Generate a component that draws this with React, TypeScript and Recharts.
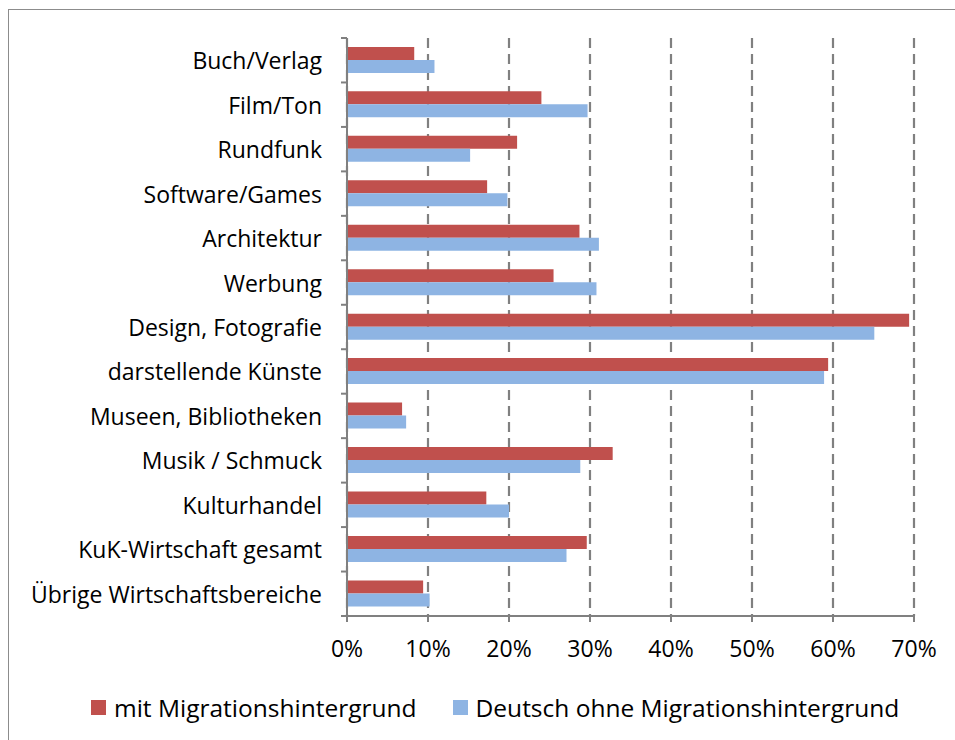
import { BarChart, Bar, XAxis, YAxis, CartesianGrid } from "recharts";

const categories = [
  "Buch/Verlag",
  "Film/Ton",
  "Rundfunk",
  "Software/Games",
  "Architektur",
  "Werbung",
  "Design, Fotografie",
  "darstellende Künste",
  "Museen, Bibliotheken",
  "Musik / Schmuck",
  "Kulturhandel",
  "KuK-Wirtschaft gesamt",
  "Übrige Wirtschaftsbereiche",
];

const mitMigration = [8.3, 24.0, 21.0, 17.3, 28.7, 25.5, 69.4, 59.4, 6.8, 32.8, 17.2, 29.6, 9.4];
const ohneMigration = [10.8, 29.7, 15.2, 19.8, 31.1, 30.8, 65.1, 58.9, 7.3, 28.8, 20.0, 27.1, 10.2];

const xTicks = [0, 10, 20, 30, 40, 50, 60, 70];

const seriesNames = ["mit Migrationshintergrund", "Deutsch ohne Migrationshintergrund"];
const RED = "#C0504D";
const BLUE = "#8EB4E3";
const GRAY = "#808080";
const FONT = "'Open Sans', sans-serif";

const data = categories.map((name, i) => ({
  name,
  mit: mitMigration[i],
  ohne: ohneMigration[i],
}));

const CHART_W = 955;
const CHART_H = 740;
const TOP = 38;
const PLOT_BOTTOM = 616;
const AXIS_X = 347;
const BAND = (PLOT_BOTTOM - TOP) / categories.length;

const CategoryTick = (props: any) => {
  const { y, payload, index } = props;
  const last = index === categories.length - 1;
  return (
    <g>
      <line x1={AXIS_X - 6} x2={AXIS_X} y1={y - BAND / 2} y2={y - BAND / 2} stroke={GRAY} strokeWidth={2} />
      {last && (
        <line x1={AXIS_X - 6} x2={AXIS_X} y1={y + BAND / 2} y2={y + BAND / 2} stroke={GRAY} strokeWidth={2} />
      )}
      <text
        x={AXIS_X - 25}
        y={y}
        textAnchor="end"
        dominantBaseline="central"
        fill="#000"
        fontSize={23}
        fontFamily={FONT}
      >
        {payload.value}
      </text>
    </g>
  );
};

const App = () => {
  return (
    <div style={{ position: "relative", width: CHART_W, height: CHART_H, overflow: "hidden", background: "#fff" }}>
      <style>{"body{margin:0}"}</style>
      <div
        style={{
          position: "absolute",
          left: 8,
          top: 9,
          width: 1000,
          height: 800,
          borderLeft: "1.5px solid #8c8c8c",
          borderTop: "1.5px solid #8c8c8c",
        }}
      />
      <div style={{ position: "absolute", left: 0, top: 0 }}>
        <BarChart
          width={CHART_W}
          height={CHART_H}
          data={data}
          layout="vertical"
          margin={{ top: TOP, right: CHART_W - 914, bottom: CHART_H - PLOT_BOTTOM - 40, left: 0 }}
          barGap={0}
          barCategoryGap="20%"
        >
          <CartesianGrid
            horizontal={false}
            stroke={GRAY}
            strokeWidth={2.2}
            strokeDasharray="10 6"
          />
          <XAxis
            type="number"
            domain={[0, 70]}
            ticks={xTicks}
            tickFormatter={(v) => `${v}%`}
            height={40}
            stroke={GRAY}
            axisLine={{ stroke: GRAY, strokeWidth: 2 }}
            tickLine={{ stroke: GRAY, strokeWidth: 2 }}
            tickSize={6}
            tickMargin={19}
            tick={{ fill: "#000", fontSize: 23, fontFamily: FONT }}
            interval={0}
          />
          <YAxis
            type="category"
            dataKey="name"
            width={AXIS_X}
            axisLine={{ stroke: GRAY, strokeWidth: 2 }}
            tickLine={false}
            tick={<CategoryTick />}
            interval={0}
          />
          <Bar dataKey="mit" name={seriesNames[0]} fill={RED} isAnimationActive={false} />
          <Bar dataKey="ohne" name={seriesNames[1]} fill={BLUE} isAnimationActive={false} />
        </BarChart>
      </div>
      <div
        style={{
          position: "absolute",
          left: 91,
          top: 691,
          display: "flex",
          alignItems: "center",
          fontFamily: FONT,
          fontSize: 24.5,
          color: "#000",
          whiteSpace: "nowrap",
        }}
      >
        {seriesNames.map((n, i) => (
          <div key={n} style={{ display: "flex", alignItems: "center", marginRight: 36 }}>
            <span style={{ width: 15, height: 15, background: i === 0 ? RED : BLUE, marginRight: 8 }} />
            <span>{n}</span>
          </div>
        ))}
      </div>
    </div>
  );
};

export default App;
